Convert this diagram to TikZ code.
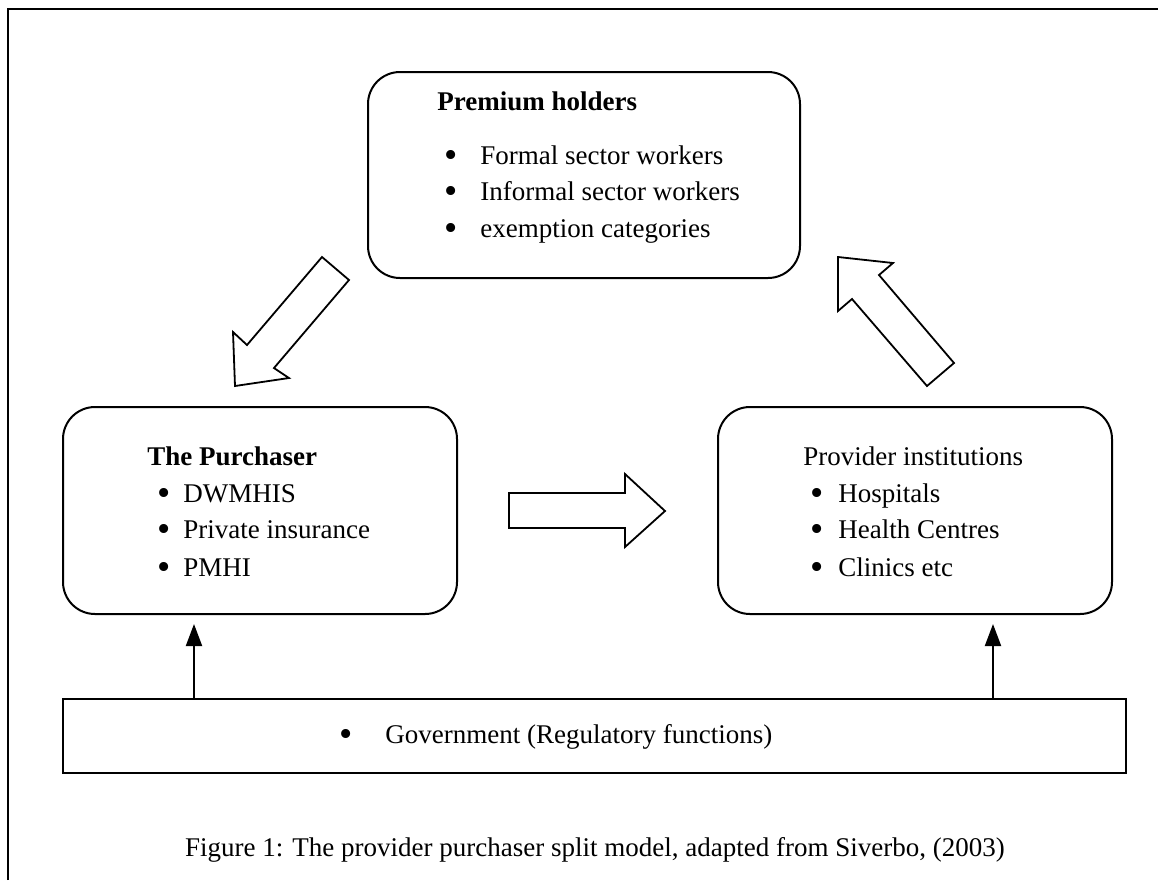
\documentclass[tikz,border=0pt]{standalone}
\usepackage{fontspec}
\setmainfont{Liberation Serif}
\usetikzlibrary{positioning}
\usetikzlibrary{arrows.meta}

\tikzset{
  roundbox/.style={draw, line width=1pt, rounded corners=16pt, inner sep=0pt},
  flatbox/.style={draw, line width=1pt, inner sep=0pt},
  txt/.style={inner sep=0pt, anchor=base west, font=\fontsize{13.5}{16}\selectfont},
  dot/.style={inner sep=0pt, anchor=base, font=\fontsize{13.5}{16}\selectfont},
  blockarrow/.style={draw, line width=0.9pt, line join=miter},
  uparrow/.style={line width=1pt, -{Triangle[length=11pt,width=8pt]}}
}
\newcommand{\bigdot}{\raisebox{-1.9pt}{\scalebox{1.4}{\textbullet}}}

\begin{document}
\begin{tikzpicture}[x=0.5pt, y=-0.5pt]
        \useasboundingbox (0,0) rectangle (1158,880);
        % Frame (only top and left edges show)
        \draw[line width=1pt] (8,880) -- (8,9) -- (1158,9);

        % Define the boxes
        \node[roundbox, minimum width=216pt, minimum height=103pt] (prem) at (584,175) {};
        \node[roundbox, minimum width=197pt, minimum height=103.5pt] (purch) at (260,510.5) {};
        \node[roundbox, minimum width=197pt, minimum height=103.5pt] (prov) at (915,510.5) {};
        \node[flatbox, minimum width=531.5pt, minimum height=37pt] (gov) at (594.5,736) {};

        % Texts of the boxes
        \node[txt] (premhead) at (437,110) {\bfseries Premium holders};
        \foreach \y/\txt [count=\i] in {164/Formal sector workers, 200/Informal sector workers, 237/exemption categories} {
            \node[dot] (premdot\i) at (451,\y) {\bigdot};
            \node[txt] (premitem\i) at (480,\y) {\txt};
        }

        \node[txt] (purchhead) at (147,465) {\bfseries The Purchaser};
        \foreach \y/\txt [count=\i] in {502/DWMHIS, 538/Private insurance, 576/PMHI} {
            \node[dot] (purchdot\i) at (164,\y) {\bigdot};
            \node[txt] (purchitem\i) at (183,\y) {\txt};
        }

        \node[txt] (provhead) at (803,465) {Provider institutions};
        \foreach \y/\txt [count=\i] in {502/Hospitals, 538/Health Centres, 576/Clinics etc} {
            \node[dot] (provdot\i) at (817,\y) {\bigdot};
            \node[txt] (provitem\i) at (838,\y) {\txt};
        }

        \node[dot] (govdot) at (346,743) {\bigdot};
        \node[txt] (govtxt) at (385,743) {Government (Regulatory functions)};

        % Block arrows
        \draw[blockarrow] (322,257) -- (349,280) -- (274,368) -- (289,378) -- (235,386)
            -- (233,332) -- (247,345) -- cycle;
        \draw[blockarrow] (509,493) -- (625,493) -- (625,474) -- (665,511) -- (625,547)
            -- (625,528) -- (509,528) -- cycle;
        \draw[blockarrow] (838,257) -- (893,263) -- (879,275) -- (954,363) -- (927,386)
            -- (852,299) -- (838,311) -- cycle;

        % Regulation arrows
        \coordinate (lft) at (194,699);
        \coordinate (rgt) at (993,699);
        \draw[uparrow] (gov.north -| lft) -- ([yshift=-4.5pt]purch.south -| lft);
        \draw[uparrow] (gov.north -| rgt) -- ([yshift=-4.5pt]prov.south -| rgt);

        \node[dot] (caption) at (595,856) {Figure 1: The provider purchaser split model, adapted from Siverbo, (2003)};
     \end{tikzpicture}
\end{document}
